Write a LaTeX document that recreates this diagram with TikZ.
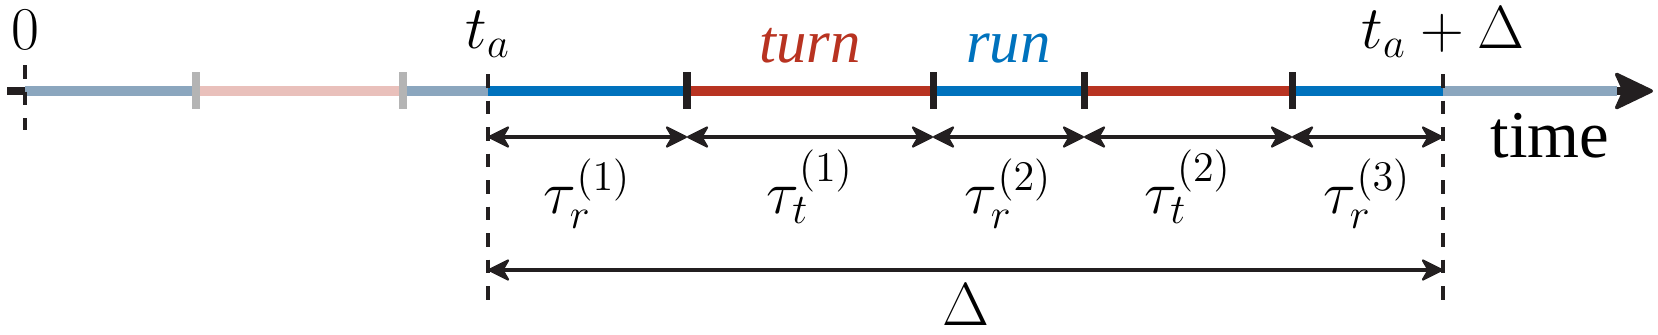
\documentclass[tikz,border=0pt]{standalone}
\usepackage[no-math]{fontspec}
\setmainfont{Liberation Serif}
\usetikzlibrary{arrows.meta, calc}
\definecolor{runblue}{RGB}{0, 114, 189}
\definecolor{turnred}{RGB}{184, 51, 33}
\definecolor{oldblue}{RGB}{139, 166, 190}
\definecolor{oldred}{RGB}{233, 192, 187}
\definecolor{tickgray}{RGB}{180, 180, 180}
\definecolor{inkblack}{RGB}{35, 31, 32}
\tikzset{
  trecho/.style={line width=3.1pt},
  trechoRun/.style={trecho, draw=runblue},
  trechoTurn/.style={trecho, draw=turnred},
  trechoOldRun/.style={trecho, draw=oldblue},
  trechoOldTurn/.style={trecho, draw=oldred},
  marca/.style={line width=2pt, draw=inkblack},
  marcaOld/.style={line width=2pt, draw=tickgray},
  guia/.style={draw=inkblack, line width=1pt, dash pattern=on 0.135cm off 0.13cm},
  ponta/.tip={Stealth[length=0.24cm, width=0.24cm, inset=0.07cm, line width=0.6pt, round]},
  medida/.style={draw=inkblack, line width=1pt, ponta-ponta},
  rotulo/.style={font=\fontsize{17.28}{20}\selectfont, inner sep=0pt, anchor=base},
}

\begin{document}
\begin{tikzpicture}[
    eixo/.style={
        draw=inkblack,
        line width=2pt,
        -{Stealth[length=0.42cm, width=0.4cm, inset=0.09cm, line width=1pt, round]}
    }
]
\useasboundingbox (0,0) rectangle (16.58,3.34);

% instants on the time axis
\coordinate (start) at (0.07,2.43);
\coordinate (t0) at (0.25,2.43);
\coordinate (g1) at (1.96,2.43);
\coordinate (g2) at (4.03,2.43);
\coordinate (ta) at (4.88,2.43);
\coordinate (b1) at (6.87,2.43);
\coordinate (b2) at (9.33,2.43);
\coordinate (b3) at (10.84,2.43);
\coordinate (b4) at (12.92,2.43);
\coordinate (tb) at (14.43,2.43);
\coordinate (fade) at (16.17,2.43);
\coordinate (tip) at (16.53,2.43);

% levels of the two measuring rows
\coordinate (rowA) at (0,1.97);
\coordinate (rowB) at (0,0.64);

\draw[eixo] (start) -- (tip);

\draw[trechoOldRun] (t0) -- (g1);
\draw[trechoOldTurn] (g1) -- (g2);
\draw[trechoOldRun] (g2) -- (ta);
\draw[trechoRun] (ta) -- (b1);
\draw[trechoTurn] (b1) -- (b2);
\draw[trechoRun] (b2) -- (b3);
\draw[trechoTurn] (b3) -- (b4);
\draw[trechoRun] (b4) -- (tb);
\draw[trechoOldRun] (tb) -- (fade);

\draw[marcaOld] ($(g1)+(0,0.19)$) -- ($(g1)+(0,-0.18)$);
\draw[marcaOld] ($(g2)+(0,0.19)$) -- ($(g2)+(0,-0.18)$);
\draw[marca] ($(b1)+(0,0.19)$) -- ($(b1)+(0,-0.18)$);
\draw[marca] ($(b2)+(0,0.19)$) -- ($(b2)+(0,-0.18)$);
\draw[marca] ($(b3)+(0,0.19)$) -- ($(b3)+(0,-0.18)$);
\draw[marca] ($(b4)+(0,0.19)$) -- ($(b4)+(0,-0.18)$);

\draw[guia] ($(t0)+(0,0.26)$) -- ($(t0)+(0,-0.39)$);
\draw[guia] ($(ta)+(0,0.17)$) -- (ta |- 0,0.34);
\draw[guia] ($(tb)+(0,0.17)$) -- (tb |- 0,0.34);

\draw[medida] (ta |- rowA) -- (b1 |- rowA);
\draw[medida] (b1 |- rowA) -- (b2 |- rowA);
\draw[medida] (b2 |- rowA) -- (b3 |- rowA);
\draw[medida] (b3 |- rowA) -- (b4 |- rowA);
\draw[medida] (b4 |- rowA) -- (tb |- rowA);
\draw[medida] (ta |- rowB) -- (tb |- rowB);

\node[rotulo] (zero) at (0.25,2.85) {$0$};
\node[rotulo] (lta) at (4.88,2.86) {$t_a$};
\node[rotulo] (ltb) at (14.43,2.86) {$t_a+\Delta$};
\node[rotulo, text=turnred] (lturn) at (8.10,2.72) {\textit{turn}};
\node[rotulo, text=runblue] (lrun) at (10.085,2.72) {\textit{run}};
\node[rotulo, font=\fontsize{19}{22}\selectfont] (ltime) at (15.50,1.77) {time};

\node[rotulo] (ltr1) at (5.875,1.21) {$\tau_r^{(1)}$};
\node[rotulo] (ltt1) at (8.10,1.21) {$\tau_t^{(1)}$};
\node[rotulo] (ltr2) at (10.085,1.21) {$\tau_r^{(2)}$};
\node[rotulo] (ltt2) at (11.88,1.21) {$\tau_t^{(2)}$};
\node[rotulo] (ltr3) at (13.675,1.21) {$\tau_r^{(3)}$};
\node[rotulo] (ldelta) at (9.655,0.09) {$\Delta$};

\end{tikzpicture}
\end{document}
